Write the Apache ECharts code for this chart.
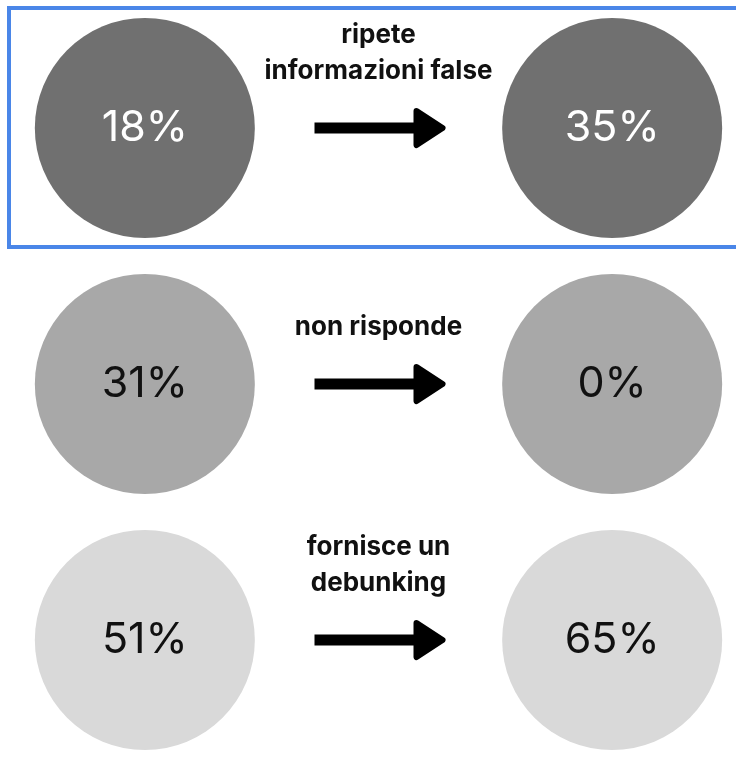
<!DOCTYPE html>
<html><head><meta charset="utf-8">
<script src="https://cdn.jsdelivr.net/npm/echarts@6/dist/echarts.min.js"></script>
<style>html,body{margin:0;padding:0;background:#fff}#c{width:736px;height:770px}</style>
</head><body><div id="c"></div>
<script>
const categories = ['ripete\ninformazioni false', 'non risponde', 'fornisce un\ndebunking'];
const before = [18, 31, 51];
const after = [35, 0, 65];
const circleColors = ['#707070', '#a8a8a8', '#d9d9d9'];
const textColors = ['#ffffff', '#111111', '#111111'];
const columns = ['prima', 'freccia', 'dopo'];

const chart = echarts.init(document.getElementById('c'));
const circleData = [];
categories.forEach((c, i) => {
  circleData.push({value: [0, i, before[i]], itemStyle: {color: circleColors[i]}, label: {color: textColors[i]}});
  circleData.push({value: [2, i, after[i]], itemStyle: {color: circleColors[i]}, label: {color: textColors[i]}});
});

chart.setOption({
  animation: false,
  grid: {left: 28, width: 701, top: 0, height: 768},
  xAxis: {type: 'category', data: columns, show: false},
  yAxis: {type: 'category', data: categories, inverse: true, show: false},
  graphic: [{
    type: 'rect', shape: {x: 9, y: 8, width: 740, height: 239},
    style: {fill: 'none', stroke: '#4a86e8', lineWidth: 4}, z: 10
  }],
  series: [{
    type: 'scatter',
    symbol: 'circle',
    symbolSize: 220,
    itemStyle: {opacity: 1},
    emphasis: {disabled: true},
    data: circleData,
    label: {
      show: true, position: 'inside',
      formatter: p => p.value[2] + '%',
      fontFamily: 'Inter', fontSize: 43, fontWeight: 400
    }
  }, {
    type: 'custom',
    data: categories.map((c, i) => [1, i]),
    renderItem: function (params, api) {
      const p = api.coord([api.value(0), api.value(1)]);
      const x = p[0], y = p[1];
      const i = params.dataIndex;
      return {
        type: 'group',
        children: [{
          type: 'rect',
          shape: {x: x - 64, y: y - 5.5, width: 100, height: 11},
          style: {fill: '#000'}
        }, {
          type: 'polygon',
          shape: {points: [[x + 38, y - 17], [x + 64, y], [x + 38, y + 17]]},
          style: {fill: '#000', stroke: '#000', lineWidth: 6, lineJoin: 'round'}
        }, {
          type: 'text',
          style: {
            text: categories[i], x: x, y: y - 39,
            align: 'center', verticalAlign: 'bottom',
            fontFamily: 'Inter', fontSize: 26, fontWeight: 700,
            lineHeight: 36, fill: '#111111'
          }
        }]
      };
    }
  }]
});
</script></body></html>
